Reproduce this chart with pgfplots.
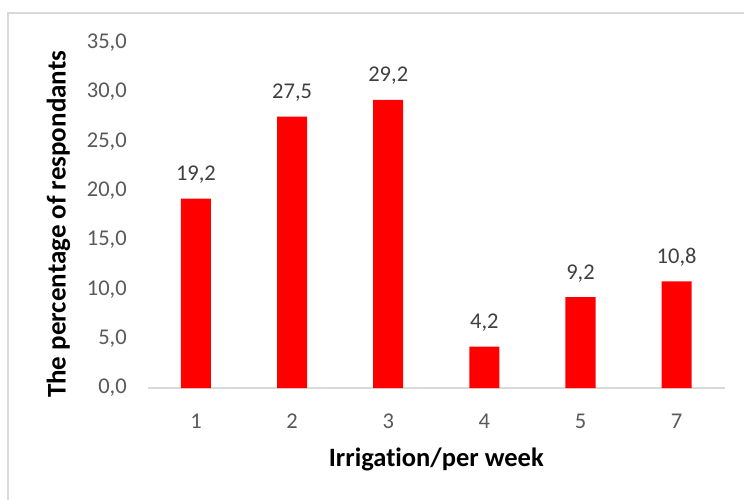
\documentclass[border=0pt]{standalone}
\usepackage{pgfplots}
\pgfplotsset{compat=1.18}
\usepackage{fontspec}
\setmainfont{Carlito}[Ligatures=NoCommon]

\definecolor{barred}{HTML}{FF0000}
\definecolor{axisgray}{HTML}{D9D9D9}
\definecolor{ticktext}{HTML}{595959}
\definecolor{labeltext}{HTML}{404040}

\begin{document}
\begin{tikzpicture}[x=1pt,y=1pt]
  \useasboundingbox[fill=white] (0,0) rectangle (744,-500);
  % chart area frame
  \draw[axisgray, line width=1.5pt] (8,-500) -- (8,-13) -- (744,-13);
  \begin{axis}[
    at={(147.9pt,-388pt)}, anchor=south west,
    scale only axis,
    width=576.8pt, height=345.3pt,
    xmin=0.5, xmax=6.5,
    ymin=0, ymax=35,
    ytick={0,5,...,35},
    xtick={1,...,6},
    xticklabels={1,2,3,4,5,7},
    axis line style={draw=none},
    major tick length=0pt,
    /pgf/number format/assume math mode=true,
    yticklabel style={
      /pgf/number format/.cd, use comma, fixed, fixed zerofill, precision=1,
      /tikz/.cd, font=\fontsize{22.5}{27}\selectfont, text=ticktext,
      inner sep=0pt, anchor=east, xshift=-21pt},
    xticklabel style={
      font=\fontsize{22.5}{27}\selectfont, text=ticktext,
      inner sep=0pt, anchor=north, yshift=-25.5pt},
    xlabel={Irrigation/per week},
    ylabel={The percentage of respondants},
    xlabel style={at={(axis description cs:0.5,0)}, anchor=base,
      yshift=-78.7pt, inner sep=0pt,
      font=\fontsize{26.5}{32}\selectfont\bfseries},
    ylabel style={at={(axis description cs:0,0.5)}, anchor=base,
      inner sep=0pt, yshift=82.2pt, xshift=-9pt,
      font=\fontsize{27}{32}\selectfont\bfseries},
    nodes near coords,
    nodes near coords style={
      /pgf/number format/.cd, use comma, fixed, fixed zerofill, precision=1,
      /tikz/.cd, font=\fontsize{22.5}{27}\selectfont, text=labeltext,
      anchor=center, yshift=24pt},
    clip=false,
  ]
    \draw[axisgray, line width=2pt] (axis cs:0.5,0) -- (axis cs:6.5,0);
    \addplot[ybar, bar width=30pt, fill=barred, draw=none]
      coordinates {(1,19.2) (2,27.5) (3,29.2) (4,4.2) (5,9.2) (6,10.8)};
  \end{axis}
\end{tikzpicture}
\end{document}
